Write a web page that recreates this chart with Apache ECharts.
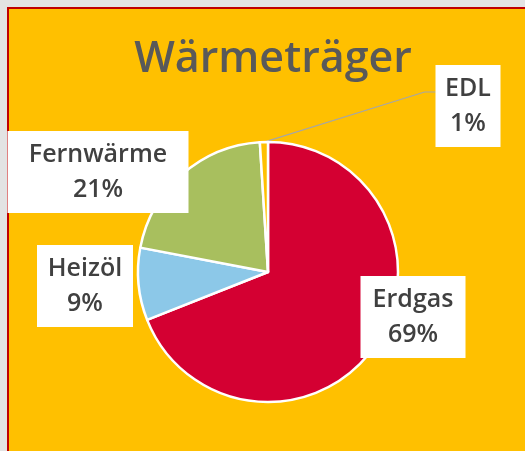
<!DOCTYPE html>
<html>
<head>
<meta charset="utf-8">
<script src="https://cdn.jsdelivr.net/npm/echarts@6/dist/echarts.min.js"></script>
<style>
  html, body { margin: 0; padding: 0; background: #e3e3e3; }
  #myCharts { width: 525px; height: 451px; }
</style>
</head>
<body>
<div id="myCharts"></div>
<script>
// data
let sliceNames = ["Erdgas", "Heizöl", "Fernwärme", "EDL"];
let sliceValues = [69, 9, 21, 1];
let sliceColors = ["#d40032", "#8cc8e8", "#a8bf5e", "#ffc000"];

// label boxes (layout only)
let labelCenters = [[413, 317], [85, 286], [98, 172], [468, 106]];
let labelWidths = [85, 76, 145, 45];
let labelPads = [[8, 10, 4, 10], [8, 10, 4, 10], [8, 18, 4, 18], [8, 10, 4, 10]];

let seriesData = sliceNames.map(function (name, i) {
  return {
    name: name,
    value: sliceValues[i],
    itemStyle: { color: sliceColors[i] },
    label: { width: labelWidths[i], padding: labelPads[i] },
    labelLine: { show: i === 3 },
  };
});

let myChart = echarts.init(document.getElementById("myCharts"));
let option = {
  backgroundColor: "#e3e3e3",
  animation: false,
  graphic: [
    {
      type: "rect",
      shape: { x: 8, y: 8, width: 540, height: 470 },
      style: { fill: "#ffc000", stroke: "#c00000", lineWidth: 2 },
      z: -10,
    },
  ],
  title: {
    text: "Wärmeträger",
    left: 268,
    top: 33,
    textAlign: "center",
    textStyle: {
      fontFamily: "Open Sans",
      fontSize: 43,
      fontWeight: 600,
      color: "#595959",
    },
  },
  series: [
    {
      type: "pie",
      center: [268, 272],
      radius: 130,
      startAngle: 90,
      clockwise: true,
      data: seriesData,
      itemStyle: {
        borderColor: "#fff",
        borderWidth: 2.5,
      },
      label: {
        show: true,
        position: "outside",
        formatter: function (p) {
          return p.name + "\n" + p.value + "%";
        },
        overflow: "none",
        fontFamily: "Open Sans",
        fontSize: 25,
        fontWeight: 600,
        lineHeight: 35,
        color: "#404040",
        backgroundColor: "#fff",
        align: "center",
      },
      labelLine: {
        lineStyle: { color: "#a6a6a6", width: 1.2 },
      },
      labelLayout: function (params) {
        let c = labelCenters[params.dataIndex];
        let res = {
          x: c[0],
          y: c[1],
          align: "center",
          verticalAlign: "middle",
        };
        if (params.dataIndex === 3 && params.labelLinePoints) {
          let p0 = params.labelLinePoints[0];
          let left = c[0] - params.labelRect.width / 2;
          res.labelLinePoints = [p0, [left - 11, 92], [left, 92]];
        }
        return res;
      },
    },
  ],
};
myChart.setOption(option);
</script>
</body>
</html>
